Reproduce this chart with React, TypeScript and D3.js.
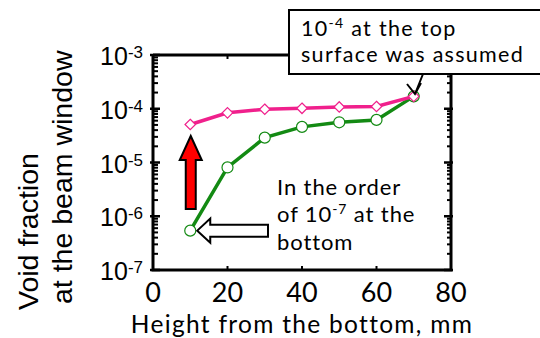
import React, { useEffect, useRef } from 'react';
import * as d3 from 'd3';

// heights (mm) and void fractions
const heights = [10, 20, 30, 40, 50, 60, 70];
const upperSeries = [5.1e-5, 8.4e-5, 9.8e-5, 1.02e-4, 1.08e-4, 1.1e-4, 1.7e-4];
const lowerSeries = [5.4e-7, 8.1e-6, 2.9e-5, 4.6e-5, 5.6e-5, 6.2e-5, 1.7e-4];
const xTicks = [0, 20, 40, 60, 80];
const yExponents = [-3, -4, -5, -6, -7];

const FONT = 'Lato, "Open Sans", sans-serif';
const ARIAL = '"Liberation Sans", Arial, sans-serif';

const App = () => {
  const ref = useRef(null);

  useEffect(() => {
    const svg = d3.select(ref.current);
    svg.selectAll('*').remove();

    const left = 153, right = 451, top = 55, bottom = 270;
    const x = d3.scaleLinear().domain([0, 80]).range([left, right]);
    const y = d3.scaleLog().domain([1e-7, 1e-3]).range([bottom, top]);

    const g = svg.append('g');

    // minor + major ticks on left / right (inward)
    const minor = [];
    for (let e = -7; e < -3; e++) {
      for (let m = 2; m <= 9; m++) minor.push(m * Math.pow(10, e));
    }
    minor.forEach(v => {
      g.append('line').attr('x1', left).attr('x2', left + 5).attr('y1', y(v)).attr('y2', y(v))
        .attr('stroke', '#000').attr('stroke-width', 2);
      g.append('line').attr('x1', right).attr('x2', right - 4).attr('y1', y(v)).attr('y2', y(v))
        .attr('stroke', '#000').attr('stroke-width', 2);
    });
    yExponents.forEach(e => {
      const v = Math.pow(10, e);
      g.append('line').attr('x1', left - 3).attr('x2', left + 7).attr('y1', y(v)).attr('y2', y(v))
        .attr('stroke', '#000').attr('stroke-width', 2.5);
      g.append('line').attr('x1', right + 2).attr('x2', right - 7).attr('y1', y(v)).attr('y2', y(v))
        .attr('stroke', '#000').attr('stroke-width', 2.5);
      const t = g.append('text')
        .attr('x', 143).attr('y', y(v) + 10)
        .attr('text-anchor', 'end')
        .attr('font-family', ARIAL).attr('font-size', 25).attr('fill', '#000');
      t.append('tspan').text('10');
      t.append('tspan').attr('dy', -7).attr('font-size', 17).text(String(e));
    });

    // x ticks top / bottom
    [20, 40, 60].forEach(v => {
      g.append('line').attr('x1', x(v)).attr('x2', x(v)).attr('y1', bottom).attr('y2', bottom - 4)
        .attr('stroke', '#000').attr('stroke-width', 2);
      g.append('line').attr('x1', x(v)).attr('x2', x(v)).attr('y1', top).attr('y2', top + 4)
        .attr('stroke', '#000').attr('stroke-width', 2);
    });
    xTicks.forEach(v => {
      g.append('text').attr('x', x(v)).attr('y', 302)
        .attr('text-anchor', 'middle')
        .attr('font-family', FONT).attr('font-size', 27).attr('fill', '#000')
        .text(v);
    });

    // frame
    g.append('path')
      .attr('d', `M${left},${top} V${bottom} H${right} V${top} H${left}`)
      .attr('fill', 'none').attr('stroke', '#000').attr('stroke-width', 3);

    // series
    const line = d3.line<number>().x((d, i) => x(heights[i])).y(d => y(d));

    g.append('path').datum(lowerSeries).attr('d', line)
      .attr('fill', 'none').attr('stroke', '#138a13').attr('stroke-width', 3.5);
    g.selectAll('.c').data(lowerSeries).enter().append('circle')
      .attr('cx', (d, i) => x(heights[i])).attr('cy', d => y(d)).attr('r', 5.5)
      .attr('fill', '#fff').attr('stroke', '#138a13').attr('stroke-width', 1.2);

    g.append('path').datum(upperSeries).attr('d', line)
      .attr('fill', 'none').attr('stroke', '#f0208c').attr('stroke-width', 3.5);
    g.selectAll('.d').data(upperSeries).enter().append('path')
      .attr('d', d3.symbol(d3.symbolDiamond2, 70))
      .attr('transform', (d, i) => `translate(${x(heights[i])},${y(d)})`)
      .attr('fill', '#fff').attr('stroke', '#f0208c').attr('stroke-width', 1.2);

    // red up arrow
    const ax = x(10) + 0.5;
    g.append('path')
      .attr('d', `M${ax},136 L${ax + 11},160 L${ax + 5},160 L${ax + 5},209 L${ax - 5},209 L${ax - 5},160 L${ax - 11},160 Z`)
      .attr('fill', '#ff0000').attr('stroke', '#000').attr('stroke-width', 2);

    // white left arrow
    const tipX = x(10) + 7, cy = y(lowerSeries[0]);
    g.append('path')
      .attr('d', `M${tipX},${cy} L${tipX + 13},${cy - 12} L${tipX + 13},${cy - 6} L268,${cy - 6} L268,${cy + 6} L${tipX + 13},${cy + 6} L${tipX + 13},${cy + 12} Z`)
      .attr('fill', '#fff').attr('stroke', '#000').attr('stroke-width', 2);

    // annotation text
    const note = g.append('text').attr('font-family', FONT).attr('font-size', 22)
      .attr('letter-spacing', 0.9).attr('fill', '#000');
    note.append('tspan').attr('x', 277).attr('y', 195).text('In the order');
    const l2 = note.append('tspan').attr('x', 277).attr('y', 222);
    l2.append('tspan').text('of 10');
    l2.append('tspan').attr('dy', -8).attr('font-size', 14).text('-7');
    l2.append('tspan').attr('dy', 8).text(' at the');
    note.append('tspan').attr('x', 277).attr('y', 250).text('bottom');

    // callout box
    g.append('rect').attr('x', 289).attr('y', 10).attr('width', 260).attr('height', 64)
      .attr('fill', '#fff').attr('stroke', '#000').attr('stroke-width', 2);
    const box = g.append('text').attr('font-family', FONT).attr('font-size', 21.5)
      .attr('letter-spacing', 1.3).attr('fill', '#000');
    const b1 = box.append('tspan').attr('x', 301).attr('y', 36);
    b1.append('tspan').text('10');
    b1.append('tspan').attr('dy', -8).attr('font-size', 14).text('-4');
    b1.append('tspan').attr('dy', 8).text(' at the top');
    box.append('tspan').attr('x', 301).attr('y', 62).text('surface was assumed');

    // callout arrow
    g.append('path').attr('d', 'M423,74 L415,94 M407,84 L415,94 L421,83')
      .attr('fill', 'none').attr('stroke', '#000').attr('stroke-width', 2);

    // axis titles
    g.append('text').attr('x', 302).attr('y', 332.5).attr('text-anchor', 'middle')
      .attr('font-family', FONT).attr('font-size', 24.5).attr('letter-spacing', 1.3).attr('fill', '#000')
      .text('Height from the bottom, mm');
    g.append('text').attr('transform', 'translate(38,310) rotate(-90)')
      .attr('font-family', ARIAL).attr('font-size', 28.5).attr('fill', '#000')
      .text('Void fraction');
    g.append('text').attr('transform', 'translate(72,304) rotate(-90)')
      .attr('font-family', ARIAL).attr('font-size', 28.5).attr('fill', '#000')
      .text('at the beam window');
  }, []);

  return (
    <svg ref={ref} width={540} height={338}
      style={{ position: 'absolute', left: 0, top: 0, background: '#fff' }} />
  );
};

export default App;
